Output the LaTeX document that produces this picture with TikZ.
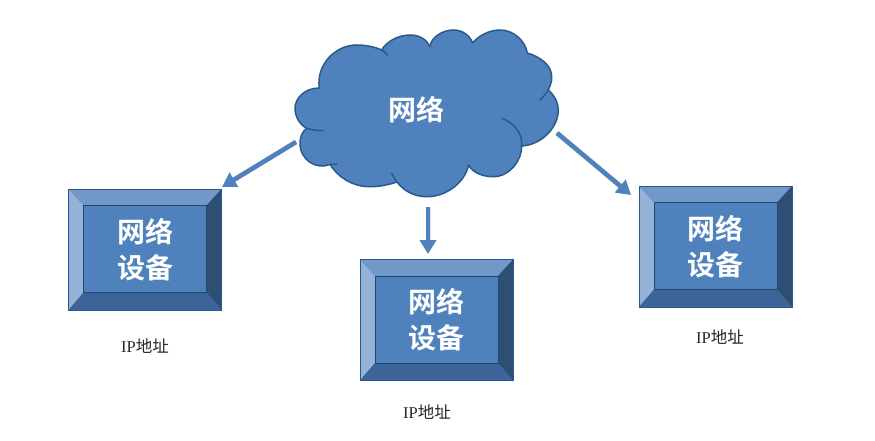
\documentclass[tikz,border=0pt]{standalone}
\usepackage{fontspec}
\setmainfont{Liberation Serif}
\newfontfamily\cjkb{Noto Sans CJK SC Bold}
\newfontfamily\cjkr{Noto Sans CJK SC}
\usetikzlibrary{arrows.meta}
\definecolor{mainb}{HTML}{4F81BD}
\definecolor{edgeb}{HTML}{2A5A8C}
\definecolor{bevL}{HTML}{95B3D7}
\definecolor{bevT}{HTML}{7298C8}
\definecolor{bevR}{HTML}{2F4E74}
\definecolor{bevB}{HTML}{3D6498}
\tikzset{
  x=1pt,y=-1pt,
  devbox/.style={draw=none,minimum width=153pt,minimum height=121pt,inner sep=0pt,align=center,
    text=white,font=\cjkb\fontsize{28}{38}\selectfont},
  cloudlabel/.style={inner sep=0pt,text=white,font=\cjkb\fontsize{28}{34}\selectfont},
  addr/.style={inner sep=0pt,text=black!85,font=\fontsize{16.5}{18}\selectfont},
  link/.style={draw=mainb,line width=4.6pt,-{Triangle[length=14pt,width=16pt]}},
  linkshade/.style={draw=black,opacity=.12,line width=5pt,-{Triangle[length=14pt,width=16pt]}},
  cloudline/.style={draw=edgeb,line width=1.5pt,line cap=round},
}
\newcommand{\bevelbox}[3]{%
  \fill[mainb] (#2-76.5,#3-60.5) rectangle (#2+76.5,#3+60.5);
  \fill[bevL] (#2-76.5,#3-60.5) -- (#2-61.5,#3-44) -- (#2-61.5,#3+43) -- (#2-76.5,#3+60.5) -- cycle;
  \fill[bevT] (#2-76.5,#3-60.5) -- (#2+76.5,#3-60.5) -- (#2+61.5,#3-44) -- (#2-61.5,#3-44) -- cycle;
  \fill[bevR] (#2+76.5,#3-60.5) -- (#2+76.5,#3+60.5) -- (#2+61.5,#3+43) -- (#2+61.5,#3-44) -- cycle;
  \fill[bevB] (#2-76.5,#3+60.5) -- (#2+76.5,#3+60.5) -- (#2+61.5,#3+43) -- (#2-61.5,#3+43) -- cycle;
  \draw[edgeb,line width=1pt] (#2-76.5,#3-60.5) rectangle (#2+76.5,#3+60.5);
  \draw[edgeb!80!black,line width=.7pt] (#2-61.5,#3-44) rectangle (#2+61.5,#3+43);
  \node[devbox] (#1) at (#2,#3) {网络\\[-2pt]设备};
}
\begin{document}
\begin{tikzpicture}
\useasboundingbox (0,0) rectangle (875,441);
\fill[white] (0,0) rectangle (875,441);
% cloud
\filldraw[fill=mainb,draw=edgeb,line width=1.5pt,line join=round]
 (319.3,88) .. controls (316,65) and (335,45) .. (356.7,45)
 .. controls (366,45) and (375,47) .. (381.7,50)
 .. controls (386,42) and (398,35) .. (410,35)
 .. controls (420,35) and (427,40) .. (430,46.7)
 .. controls (431,37) and (443,30) .. (453.3,30)
 .. controls (463,30) and (470,36) .. (472.7,43)
 .. controls (478,36) and (489,30) .. (500,30)
 .. controls (513,30) and (525,40) .. (527.3,53)
 .. controls (541,57) and (552,66) .. (551.7,77)
 .. controls (552,82) and (550,86) .. (548.3,90)
 .. controls (555,96) and (558.3,103) .. (558.3,110)
 .. controls (558.3,128) and (541,145) .. (521.7,146)
 .. controls (522,160) and (510,176.7) .. (493.3,176.7)
 .. controls (483,176.7) and (473,173) .. (468.6,165)
 .. controls (465,182) and (447,196.7) .. (426.7,196.7)
 .. controls (413,196.7) and (403,190) .. (397,182)
 .. controls (388,185) and (379,186.7) .. (370,186.7)
 .. controls (352,186.7) and (338,177) .. (330,164.5)
 .. controls (316,170) and (300,160) .. (300,143.3)
 .. controls (300,137) and (302,132) .. (306.5,128.3)
 .. controls (299,124) and (295,116) .. (295,108.3)
 .. controls (295,98) and (305,88) .. (319.3,88) -- cycle;
\draw[cloudline] (381.7,50) .. controls (384,51) and (386,53) .. (387.3,55);
\draw[cloudline] (548.3,90) .. controls (546,94) and (543,97) .. (540,100);
\draw[cloudline] (501.7,118.3) .. controls (513,122) and (523,133) .. (521.7,146);
\draw[cloudline] (397,182) .. controls (395,179) and (393,176) .. (391.7,173.3);
\draw[cloudline] (330,164.5) .. controls (332,164.5) and (335,164.5) .. (336.7,164);
\draw[cloudline] (306.5,128.3) .. controls (312,130) and (318,130.7) .. (323.3,130.7);
\node[cloudlabel] (net) at (416,110) {网络};
% boxes
\bevelbox{devA}{145}{249.5}
\bevelbox{devB}{436.5}{320}
\bevelbox{devC}{715.5}{246.5}
% arrow ends
\coordinate (aS) at (296,142);
\coordinate (bS) at (428,207);
\coordinate (cS) at (557,133);
\coordinate (bE) at (428,254);
\coordinate (cE) at (631,195);
\coordinate (aE) at (222,187);
\begin{scope}[shift={(1.5,2)}]
\draw[linkshade] (aS) -- (aE);
\draw[linkshade] (bS) -- (bE);
\draw[linkshade] (cS) -- (cE);
\end{scope}
\draw[link] (aS) -- (aE);
\draw[link] (bS) -- (bE);
\draw[link] (cS) -- (cE);
% addresses
\node[addr] (ipA) at (145,346) {IP{\cjkr 地址}};
\node[addr] (ipB) at (427,412) {IP{\cjkr 地址}};
\node[addr] (ipC) at (720,337) {IP{\cjkr 地址}};
\end{tikzpicture}
\end{document}
